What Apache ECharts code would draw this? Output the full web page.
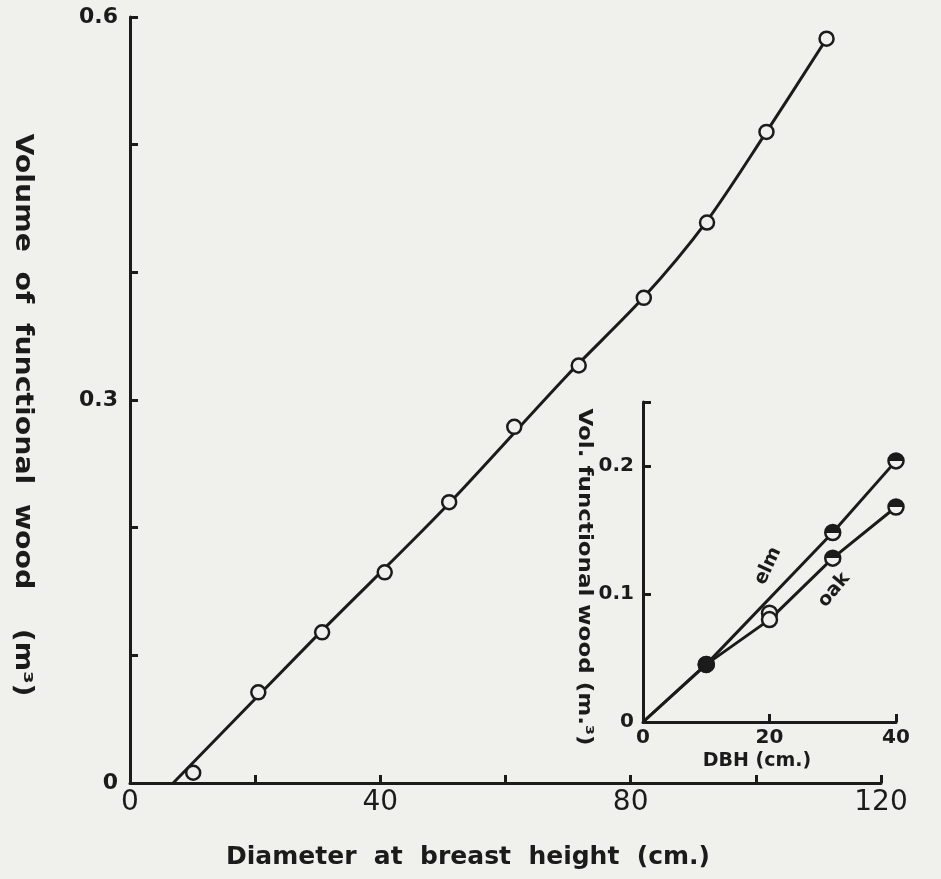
<!DOCTYPE html>
<html><head><meta charset="utf-8">
<script src="https://cdn.jsdelivr.net/npm/echarts@6/dist/echarts.min.js"></script>
<style>html,body{margin:0;padding:0;background:#efefec}#c{width:941px;height:879px}</style>
</head><body><div id="c"></div><script>
// Main chart: DBH (cm) vs volume of functional wood (m3)
const mainDBH = [10.1, 20.5, 30.7, 40.7, 51.0, 61.4, 71.7, 82.1, 92.2, 101.7, 111.3];
const mainVol = [0.008, 0.071, 0.118, 0.165, 0.220, 0.279, 0.327, 0.380, 0.439, 0.510, 0.583];
// fitted curve as drawn in the figure
const curveDBH = [6.9, 30, 50, 70, 82, 92, 101.7, 111.3];
const curveVol = [0, 0.116, 0.214, 0.320, 0.380, 0.439, 0.510, 0.583];
const mainXTicks = [0, 40, 80, 120];
const mainYTicks = [0, 0.3, 0.6];
// Inset: elm and oak
const insetDBH = [10, 20, 30, 40];
const elmVol = [0.045, 0.085, 0.148, 0.204];
const oakVol = [0.045, 0.080, 0.128, 0.168];
const elmLineDBH = [0, 10, 30, 40];
const elmLineVol = [0, 0.045, 0.148, 0.204];
const oakLineDBH = [0, 10, 20, 30, 40];
const oakLineVol = [0, 0.045, 0.080, 0.128, 0.168];
const insetYTicks = [0, 0.1, 0.2];

const BG = '#f0f0ed', INK = '#1b1b1b';
const pairs = (xs, ys) => xs.map((x, i) => [x, ys[i]]);
const halfFill = {type: 'linear', x: 0, y: 0, x2: 0, y2: 1,
  colorStops: [{offset: 0, color: INK}, {offset: 0.5, color: INK}, {offset: 0.5, color: BG}, {offset: 1, color: BG}]};
function insetMarkers(xs, ys) {
  return xs.map((x, i) => ({value: [x, ys[i]], itemStyle: {color: i === 0 ? INK : (i === 1 ? BG : halfFill)}}));
}
const near = (v, list) => list.some(t => Math.abs(v - t) < 1e-6);

const chart = echarts.init(document.getElementById('c'), null, {renderer: 'canvas'});
const axisCommon = {
  axisLine: {show: true, onZero: false, lineStyle: {color: INK, width: 3}},
  axisTick: {show: true, inside: true, length: 8, lineStyle: {color: INK, width: 3}},
  splitLine: {show: false}
};
chart.setOption({
  backgroundColor: BG,
  animation: false,
  grid: [
    {left: 130, top: 17, width: 751, height: 766},
    {left: 643, top: 402, width: 253, height: 320}
  ],
  xAxis: [
    Object.assign({type: 'value', gridIndex: 0, min: 0, max: 120, interval: 20,
      axisLabel: {color: INK, fontFamily: 'DejaVu Sans', fontSize: 28, margin: 6,
        formatter: v => near(v, mainXTicks) ? String(v) : ''}}, axisCommon),
    Object.assign({type: 'value', gridIndex: 1, min: 0, max: 40, interval: 20,
      axisLabel: {color: INK, fontFamily: 'DejaVu Sans', fontWeight: 'bold', fontSize: 20, margin: 6,
        formatter: v => String(v)}}, axisCommon)
  ],
  yAxis: [
    Object.assign({type: 'value', gridIndex: 0, min: 0, max: 0.6, interval: 0.1,
      axisLabel: {color: INK, fontFamily: 'DejaVu Sans', fontWeight: 'bold', fontSize: 22, margin: 12,
        formatter: v => near(v, mainYTicks) ? (Math.abs(v) < 1e-9 ? '0' : v.toFixed(1)) : ''}}, axisCommon),
    Object.assign({type: 'value', gridIndex: 1, min: 0, max: 0.25, interval: 0.1,
      axisLabel: {color: INK, fontFamily: 'DejaVu Sans', fontWeight: 'bold', fontSize: 20, margin: 9,
        formatter: v => near(v, insetYTicks) ? (Math.abs(v) < 1e-9 ? '0' : v.toFixed(1)) : ''}}, axisCommon)
  ],
  series: [
    {type: 'line', xAxisIndex: 0, yAxisIndex: 0, data: pairs(curveDBH, curveVol), smooth: 0.3,
      showSymbol: false, lineStyle: {color: INK, width: 3}, z: 2},
    {type: 'scatter', xAxisIndex: 0, yAxisIndex: 0, data: pairs(mainDBH, mainVol), symbol: 'circle', symbolSize: 14,
      itemStyle: {color: BG, borderColor: INK, borderWidth: 2.5, opacity: 1}, z: 3},
    {type: 'line', xAxisIndex: 1, yAxisIndex: 1, data: pairs(elmLineDBH, elmLineVol), showSymbol: false,
      lineStyle: {color: INK, width: 3}, z: 2},
    {type: 'line', xAxisIndex: 1, yAxisIndex: 1, data: pairs(oakLineDBH, oakLineVol), showSymbol: false,
      lineStyle: {color: INK, width: 3}, z: 2},
    {type: 'scatter', xAxisIndex: 1, yAxisIndex: 1, data: insetMarkers(insetDBH, elmVol), symbolSize: 15,
      itemStyle: {borderColor: INK, borderWidth: 2.5, opacity: 1}, z: 3},
    {type: 'scatter', xAxisIndex: 1, yAxisIndex: 1, data: insetMarkers(insetDBH, oakVol), symbolSize: 15,
      itemStyle: {borderColor: INK, borderWidth: 2.5, opacity: 1}, z: 3}
  ],
  graphic: [
    {type: 'text', x: 468, y: 857, style: {text: 'Diameter  at  breast  height  (cm.)',
      font: 'bold 25px "DejaVu Sans"', fill: INK, textAlign: 'center', textVerticalAlign: 'middle'}},
    {type: 'text', x: 22, y: 415, rotation: -Math.PI / 2, scaleX: 1.18, style: {text: 'Volume  of  functional  wood    (m³)',
      font: 'bold 24px "DejaVu Sans"', fill: INK, textAlign: 'center', textVerticalAlign: 'middle'}},
    {type: 'text', x: 584, y: 577, rotation: -Math.PI / 2, scaleX: 1.15, style: {text: 'Vol. functional wood (m.³)',
      font: 'bold 20px "DejaVu Sans"', fill: INK, textAlign: 'center', textVerticalAlign: 'middle'}},
    {type: 'text', x: 757, y: 761, style: {text: 'DBH (cm.)',
      font: 'bold 19px "DejaVu Sans"', fill: INK, textAlign: 'center', textVerticalAlign: 'middle'}},
    {type: 'text', x: 768, y: 566, rotation: 65 * Math.PI / 180, style: {text: 'elm',
      font: 'bold 19px "DejaVu Sans"', fill: INK, textAlign: 'center', textVerticalAlign: 'middle'}},
    {type: 'text', x: 834, y: 590, rotation: 50 * Math.PI / 180, style: {text: 'oak',
      font: 'bold 19px "DejaVu Sans"', fill: INK, textAlign: 'center', textVerticalAlign: 'middle'}}
  ]
});
</script></body></html>
